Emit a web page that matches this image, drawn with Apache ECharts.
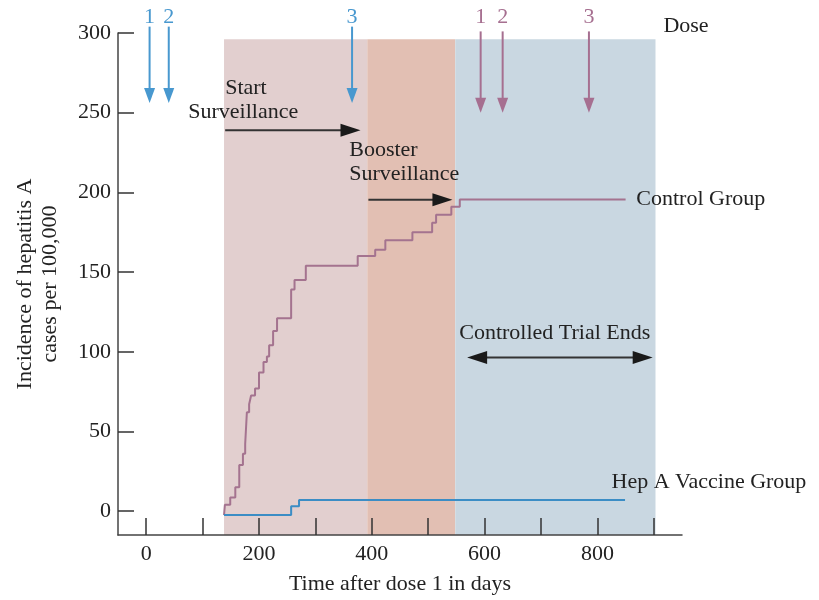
<!DOCTYPE html>
<html>
<head>
<meta charset="utf-8">
<script src="https://cdn.jsdelivr.net/npm/echarts@6/dist/echarts.min.js"></script>
<style>
  html, body { margin: 0; padding: 0; background: #fff; }
  #chart { width: 819px; height: 600px; }
</style>
</head>
<body>
<div id="chart"></div>
<script>
// cumulative incidence, [day, cases per 100,000]
const controlGroup = [
  [138, -2.5], [139.5, 4], [149, 8.5], [158, 15], [165, 29], [171.5, 36], [175.5, 42],
  [178.5, 62], [182.5, 67], [186, 72.5], [193, 77], [200, 87], [208, 93.5], [214, 97],
  [218, 104], [225, 113], [232, 121], [257, 139], [263, 145], [283, 154], [375, 160],
  [406, 164], [424, 170], [472, 175], [507, 181], [514, 186], [541, 191], [556, 195.5],
  [850, 195.5]
];
const vaccineGroup = [[138, -2.5], [257, 3], [271, 7], [849, 7]];

// study periods [from day, to day]
const periods = [[138, 392], [392, 548], [548, 903]];
const periodTop = 296;

const xTicks = [0, 100, 200, 300, 400, 500, 600, 700, 800, 900];
const xLabels = [0, 200, 400, 600, 800];
const yTicks = [0, 50, 100, 150, 200, 250, 300];

// dose days for each group
const doseVaccine = [6, 40, 365];
const doseControl = [593, 632, 785];
const doseNames = ['1', '2', '3'];

// annotation arrows: [x1, x2, y, both ends]
const spanArrows = [[140, 380, 239, false], [394, 543, 195.4, false], [569, 898, 96.4, true]];
// annotation texts: [x, y, text]
const notes = [
  [140, 265.5, 'Start'],
  [74.5, 250, 'Surveillance'],
  [360, 226.7, 'Booster'],
  [360, 211.6, 'Surveillance'],
  [869, 195.4, 'Control Group'],
  [555, 111.5, 'Controlled Trial Ends'],
  [825, 18, 'Hep A Vaccine Group'],
  [917, 304, 'Dose']
];

const FONT = '"Liberation Serif", "Times New Roman", serif';
const FS = 22;
const BLUE = '#3b8dc5';
const MAUVE = '#a4738f';
const INK = '#222';

function head(tip, dx, dy, len, wid) {
  // triangle pointing along (dx, dy) with its point at tip
  const bx = tip[0] - dx * len, by = tip[1] - dy * len;
  return [tip, [bx - dy * wid / 2, by + dx * wid / 2], [bx + dy * wid / 2, by - dx * wid / 2]];
}

function doseSeries(days, top, tip, color) {
  return {
    type: 'custom',
    clip: false,
    z: 5,
    data: days.map((d, i) => [d, top, tip, i]),
    renderItem: function (params, api) {
      const a = api.coord([api.value(0), api.value(1)]);
      const b = api.coord([api.value(0), api.value(2)]);
      return {
        type: 'group',
        children: [
          { type: 'line', shape: { x1: a[0], y1: a[1], x2: b[0], y2: b[1] - 8 },
            style: { stroke: color, lineWidth: 2 } },
          { type: 'polygon', shape: { points: head(b, 0, 1, 15, 11) }, style: { fill: color } },
          { type: 'text', x: a[0], y: 17,
            style: { text: doseNames[api.value(3)], fill: color, font: FS + 'px ' + FONT,
              align: 'center', verticalAlign: 'middle' } }
        ]
      };
    }
  };
}

const chart = echarts.init(document.getElementById('chart'));

chart.setOption({
  animation: false,
  grid: { left: 118, right: 137, top: 33, bottom: 65 },
  xAxis: {
    type: 'value', min: -50, max: 950, z: 4,
    name: 'Time after dose 1 in days', nameLocation: 'middle', nameGap: 38,
    nameTextStyle: { fontFamily: FONT, fontSize: FS, color: INK },
    axisLine: { show: true, onZero: false, lineStyle: { color: '#444', width: 1.5 } },
    axisTick: { inside: true, length: 17, customValues: xTicks, lineStyle: { color: '#333', width: 1.5 } },
    axisLabel: { customValues: xLabels, margin: 8, fontFamily: FONT, fontSize: FS, color: INK },
    splitLine: { show: false }
  },
  yAxis: {
    type: 'value', min: -15, max: 300, z: 4,
    name: 'Incidence of hepatitis A\ncases per 100,000', nameLocation: 'middle', nameGap: 55,
    nameTextStyle: { fontFamily: FONT, fontSize: FS, color: INK, lineHeight: 25 },
    axisLine: { show: true, onZero: false, lineStyle: { color: '#444', width: 1.5 } },
    axisTick: { inside: true, length: 16, customValues: yTicks, lineStyle: { color: '#333', width: 1.5 } },
    axisLabel: { customValues: yTicks, margin: 7, fontFamily: FONT, fontSize: FS, color: INK },
    splitLine: { show: false }
  },
  series: [
    {
      type: 'line', data: [], z: 0,
      markArea: {
        silent: true,
        data: periods.map((p, i) => [
          { coord: [p[0], periodTop], itemStyle: { color: ['#e2cfcf', '#e2bfb3', '#c9d7e1'][i] } },
          { coord: [p[1], -15] }
        ])
      }
    },
    {
      name: 'Control Group', type: 'line', step: 'end', data: controlGroup, z: 3,
      symbol: 'none', lineStyle: { color: MAUVE, width: 2 }
    },
    {
      name: 'Hep A Vaccine Group', type: 'line', step: 'end', data: vaccineGroup, z: 3,
      symbol: 'none', lineStyle: { color: BLUE, width: 2 }
    },
    doseSeries(doseVaccine, 304, 256, '#4898cf'),
    doseSeries(doseControl, 301, 250, '#a66f90'),
    {
      type: 'custom', clip: false, z: 5,
      data: spanArrows.map(a => [a[0], a[1], a[2], a[3] ? 1 : 0]),
      renderItem: function (params, api) {
        const a = api.coord([api.value(0), api.value(2)]);
        const b = api.coord([api.value(1), api.value(2)]);
        const both = api.value(3) === 1;
        const kids = [
          { type: 'line', shape: { x1: a[0] + (both ? 8 : 0), y1: a[1], x2: b[0] - 8, y2: b[1] },
            style: { stroke: '#333', lineWidth: 2 } },
          { type: 'polygon', shape: { points: head(b, 1, 0, 20, 13) }, style: { fill: '#1a1a1a' } }
        ];
        if (both) {
          kids.push({ type: 'polygon', shape: { points: head(a, -1, 0, 20, 13) }, style: { fill: '#1a1a1a' } });
        }
        return { type: 'group', children: kids };
      }
    },
    {
      type: 'custom', clip: false, z: 6,
      data: notes,
      renderItem: function (params, api) {
        const p = api.coord([api.value(0), api.value(1)]);
        return {
          type: 'text', x: p[0], y: p[1],
          style: { text: notes[params.dataIndex][2], fill: INK, font: FS + 'px ' + FONT,
            align: 'left', verticalAlign: 'middle' }
        };
      }
    }
  ]
});
</script>
</body>
</html>
